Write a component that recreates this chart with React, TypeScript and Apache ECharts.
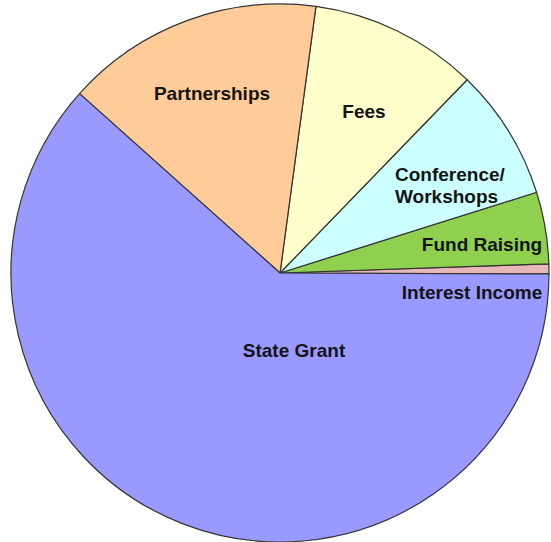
import React, { useEffect, useRef } from "react";
import * as echarts from "echarts";

const categories = [
  "Interest Income",
  "Fund Raising",
  "Conference/\nWorkshops",
  "Fees",
  "Partnerships",
  "State Grant",
];
const values = [0.6, 4.3, 7.9, 10.1, 15.5, 61.5];
const colors = ["#E6B8B7", "#8FD14F", "#CCFFFF", "#FFFFCC", "#FFCC99", "#9999FF"];

// label anchor positions (pixels) per slice
const labelPos: [number, number, string][] = [
  [472, 292, "center"],
  [482, 244, "center"],
  [395, 185, "left"],
  [364, 111, "center"],
  [212, 93, "center"],
  [294, 350, "center"],
];

export default function App() {
  const ref = useRef<HTMLDivElement>(null);
  useEffect(() => {
    if (!ref.current) return;
    const chart = echarts.init(ref.current, undefined, { renderer: "svg" });
    chart.setOption({
      animation: false,
      backgroundColor: "#ffffff",
      series: [
        {
          type: "pie",
          center: [280, 273],
          radius: [0, 269],
          startAngle: -0.2,
          clockwise: false,
          avoidLabelOverlap: false,
          itemStyle: { borderColor: "#333333", borderWidth: 1.2 },
          label: {
            show: true,
            position: "inside",
            formatter: "{b}",
            color: "#141414",
            fontFamily: "Liberation Sans, Arial, sans-serif",
            fontWeight: "bold",
            fontSize: 19,
            lineHeight: 22,
          },
          labelLine: { show: false },
          emphasis: { disabled: true },
          labelLayout: (params: any) => {
            const p = labelPos[params.dataIndex];
            return { x: p[0], y: p[1], align: p[2], verticalAlign: "middle" };
          },
          data: categories.map((name, i) => ({
            name,
            value: values[i],
            itemStyle: { color: colors[i] },
          })),
        },
      ],
    });
    return () => chart.dispose();
  }, []);
  return (
    <div
      ref={ref}
      style={{ position: "fixed", left: 0, top: 0, width: 551, height: 542 }}
    />
  );
}
